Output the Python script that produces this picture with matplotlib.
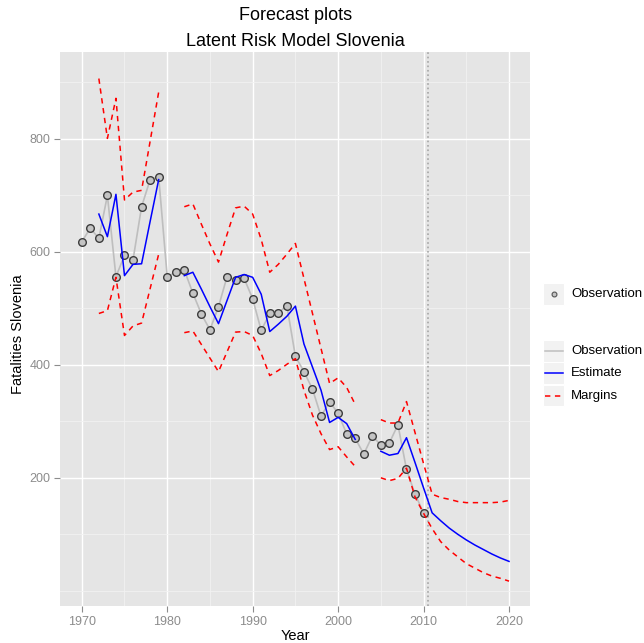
import numpy as np
import matplotlib
matplotlib.use('Agg')
import matplotlib.pyplot as plt
from matplotlib.lines import Line2D
from matplotlib.patches import Rectangle
from matplotlib.ticker import FixedLocator, MultipleLocator

nan = np.nan

# observed fatalities, 1970-2010
obs_years = np.arange(1970, 2011)
observed = [618, 642, 624, 700, 556, 594, 586, 680, 728, 733,
            556, 564, 568, 527, 490, 462, 503, 556, 551, 553,
            517, 461, 491, 492, 505, 415, 388, 357, 309, 335,
            314, 278, 270, 242, 274, 258, 262, 294, 215, 171,
            138]

# estimate and margins, 1972-2020 (gaps where the model gives nothing)
est_years = np.arange(1972, 2021)
estimate = [667, 627, 702, 558, 578, 579, 654, 728, nan, nan,
            558, 564, 534, 503, 473, 514, 555, 560, 555, 525,
            459, 472, 486, 504, 437, 396, 355, 298, 307, 296,
            268, nan, nan, 247, 240, 243, 271, 227, 182, 138,
            124, 111, 100, 90, 81, 73, 65, 58, 52]
upper = [907, 801, 872, 692, 706, 709, 796, 883, nan, nan,
         680, 685, 649, 614, 582, 631, 678, 681, 667, 622,
         564, 578, 596, 615, 553, 491, 429, 367, 377, 360,
         330, nan, nan, 303, 297, 297, 335, 280, 225, 171,
         165, 162, 158, 156, 156, 156, 156, 157, 160]
lower = [491, 496, 555, 452, 469, 474, 535, 596, nan, nan,
         457, 460, 436, 412, 388, 423, 458, 459, 452, 420,
         381, 390, 401, 411, 355, 311, 278, 250, 255, 237,
         220, nan, nan, 200, 195, 199, 217, 166, 137, 110,
         87, 72, 60, 48, 40, 32, 26, 22, 17]
forecast_start = 2010.5
y_ticks = [200, 400, 600, 800]

W, H = 644, 643
plt.rcParams['font.family'] = ['Liberation Sans', 'DejaVu Sans']

fig = plt.figure(figsize=(W / 100, H / 100), dpi=100)
ax = fig.add_axes([60.4 / W, 1 - 606 / H, 470 / W, 554 / H])
ax.set_facecolor('#E5E5E5')
for s in ax.spines.values():
    s.set_visible(False)

ax.xaxis.set_major_locator(MultipleLocator(10))
ax.xaxis.set_minor_locator(MultipleLocator(5))
ax.yaxis.set_major_locator(FixedLocator(y_ticks))
ax.yaxis.set_minor_locator(FixedLocator([0, 100, 300, 500, 700, 900]))
ax.grid(which='major', color='white', lw=1.0)
ax.grid(which='minor', color='#F2F2F2', lw=0.6)
ax.set_axisbelow(True)
ax.tick_params(which='major', colors='#8C8C8C', labelcolor='#8C8C8C',
               length=4, width=0.8, labelsize=9, pad=3)
ax.tick_params(which='minor', length=0)

ax.plot(obs_years, observed, color='#BEBEBE', lw=1.2, zorder=2)
ax.plot(obs_years, observed, 'o', ms=5.5, mfc='#C4C4C4', mec='#3C3C3C',
        mew=1.0, zorder=3)
ax.plot(est_years, estimate, color='#0000FF', lw=1.1, zorder=4)
dash = (0, (3.5, 3))
ax.plot(est_years, upper, color='#FF0000', lw=1.1, ls=dash, zorder=5)
ax.plot(est_years, lower, color='#FF0000', lw=1.1, ls=dash, zorder=5)
ax.axvline(forecast_start, color='#A6A6A6', lw=1.2, ls=':', zorder=1.5)

ax.set_xlim(1967.5, 2022.5)
ax.set_ylim(-27, 954)
ax.set_xlabel('Year', fontsize=10.5, labelpad=1)
ax.set_ylabel('Fatalities Slovenia', fontsize=10.5)
ax.yaxis.set_label_coords(-(60.4 - 25) / 470, (606 - 334) / 554)

# two-line title, centred over the panel
cx = (60.4 + 235) / W
fig.text(cx, 1 - 15 / H, 'Forecast plots', fontsize=13, ha='center',
         va='center')
fig.text(cx, 1 - 42 / H, 'Latent Risk Model Slovenia', fontsize=13,
         ha='center', va='center')


# legends drawn by hand, ggplot style keys
def px(x, y):
    return x / W, 1 - y / H


def key_box(y0):
    x, y = px(542.7, y0 + 21.6)
    fig.add_artist(Rectangle((x, y), 21.6 / W, 21.6 / H,
                             transform=fig.transFigure, fc='#F2F2F2',
                             ec='white', lw=0.8))


def key_text(y0, label):
    x, y = px(571, y0 + 10.8)
    fig.text(x, y, label, fontsize=9.5, va='center', ha='left')


key_box(283)
x, y = px(553.5, 293.8)
fig.add_artist(Line2D([x], [y], marker='o', ms=3.5, mfc='#C4C4C4',
                      mec='#555555', mew=0.8, transform=fig.transFigure))
key_text(283, 'Observation')

entries = [('Observation', '#BEBEBE', '-'),
           ('Estimate', '#0000FF', '-'),
           ('Margins', '#FF0000', (0, (3.5, 3)))]
for i, (label, col, ls) in enumerate(entries):
    y0 = 340 + i * 22.4
    key_box(y0)
    x0, yc = px(544.5, y0 + 11)
    x1, _ = px(562.5, y0 + 11)
    fig.add_artist(Line2D([x0, x1], [yc, yc], color=col, lw=1.1, ls=ls,
                          transform=fig.transFigure))
    key_text(y0, label)

fig.savefig('out.png', dpi=100)
